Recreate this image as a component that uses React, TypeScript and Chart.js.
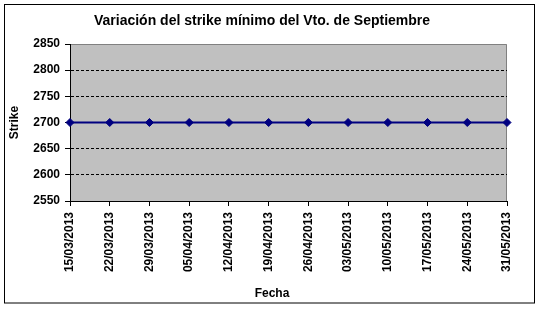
import React, { useEffect, useRef } from "react";
import { Chart, registerables } from "chart.js";

Chart.register(...registerables);

const fechas = [
  "15/03/2013", "22/03/2013", "29/03/2013", "05/04/2013", "12/04/2013", "19/04/2013",
  "26/04/2013", "03/05/2013", "10/05/2013", "17/05/2013", "24/05/2013", "31/05/2013",
];
const strikes = [2700, 2700, 2700, 2700, 2700, 2700, 2700, 2700, 2700, 2700, 2700, 2700];
const yMin = 2550;
const yMax = 2850;
const yStep = 50;
const titulo = "Variación del strike mínimo del Vto. de Septiembre";
const tituloY = "Strike";
const tituloX = "Fecha";

const FONT = "'Liberation Sans', Arial, sans-serif";

const decor = {
  id: "decor",
  beforeDraw(chart: any) {
    const { ctx, chartArea: a } = chart;
    ctx.save();
    ctx.fillStyle = "#ffffff";
    ctx.fillRect(0, 0, chart.width, chart.height);
    ctx.strokeStyle = "#000000";
    ctx.lineWidth = 1;
    ctx.strokeRect(4.5, 4.5, 530, 298.5);
    ctx.fillStyle = "#C0C0C0";
    ctx.fillRect(a.left, a.top, a.right - a.left, a.bottom - a.top);
    ctx.strokeStyle = "#808080";
    ctx.beginPath();
    ctx.moveTo(a.left, a.top + 0.5);
    ctx.lineTo(a.right - 0.5, a.top + 0.5);
    ctx.lineTo(a.right - 0.5, a.bottom);
    ctx.stroke();
    ctx.restore();
  },
  afterDraw(chart: any) {
    const { ctx, chartArea: a } = chart;
    ctx.save();
    ctx.fillStyle = "#000000";
    ctx.textAlign = "center";
    ctx.textBaseline = "middle";
    ctx.font = `bold 14px ${FONT}`;
    ctx.fillText(titulo, 262, 21);
    ctx.font = `bold 12px ${FONT}`;
    ctx.fillText(tituloX, 272, 294);
    ctx.translate(15, (a.top + a.bottom) / 2);
    ctx.rotate(-Math.PI / 2);
    ctx.fillText(tituloY, 0, 0);
    ctx.restore();
  },
};

export default function App() {
  const ref = useRef<HTMLCanvasElement | null>(null);
  useEffect(() => {
    if (!ref.current) return;
    const chart = new Chart(ref.current, {
      type: "line",
      data: {
        labels: fechas,
        datasets: [
          {
            data: strikes,
            borderColor: "#000080",
            backgroundColor: "#000080",
            borderWidth: 2,
            pointStyle: "rectRot",
            pointRadius: 4,
            pointBackgroundColor: "#000080",
            pointBorderColor: "#000080",
            pointBorderWidth: 1,
            tension: 0,
          },
        ],
      },
      options: {
        responsive: false,
        animation: false,
        events: [],
        layout: { padding: { left: 0, right: 34, top: 44, bottom: 0 } },
        plugins: {
          legend: { display: false },
          tooltip: { enabled: false },
          title: { display: false },
        },
        scales: {
          x: {
            type: "category",
            offset: false,
            afterFit: (s: any) => {
              s.height = 112;
            },
            grid: {
              display: true,
              drawOnChartArea: false,
              drawTicks: true,
              tickLength: 5,
              tickColor: "#000000",
              tickWidth: 1,
              offset: false,
            },
            border: { display: true, color: "#000000", width: 1 },
            ticks: {
              autoSkip: false,
              minRotation: 90,
              maxRotation: 90,
              padding: 6,
              color: "#000000",
              font: { family: FONT, size: 12, weight: "bold" },
            },
          },
          y: {
            min: yMin,
            max: yMax,
            afterFit: (s: any) => {
              s.width = 70;
            },
            grid: {
              color: (c: any) =>
                c.tick && (c.tick.value === yMin || c.tick.value === yMax)
                  ? "rgba(0,0,0,0)"
                  : "#000000",
              lineWidth: 1,
              drawTicks: true,
              tickLength: 5,
              tickColor: "#000000",
              tickWidth: 1,
            },
            border: { display: true, color: "#000000", width: 1, dash: [3, 2] },
            ticks: {
              stepSize: yStep,
              padding: 5,
              color: "#000000",
              font: { family: FONT, size: 12, weight: "bold" },
              callback: (v: any) => String(v),
            },
          },
        },
      },
      plugins: [decor],
    } as any);
    return () => chart.destroy();
  }, []);
  return (
    <div style={{ position: "absolute", left: 0, top: 0, width: 541, height: 313 }}>
      <canvas ref={ref} width={541} height={313} style={{ display: "block" }} />
    </div>
  );
}
